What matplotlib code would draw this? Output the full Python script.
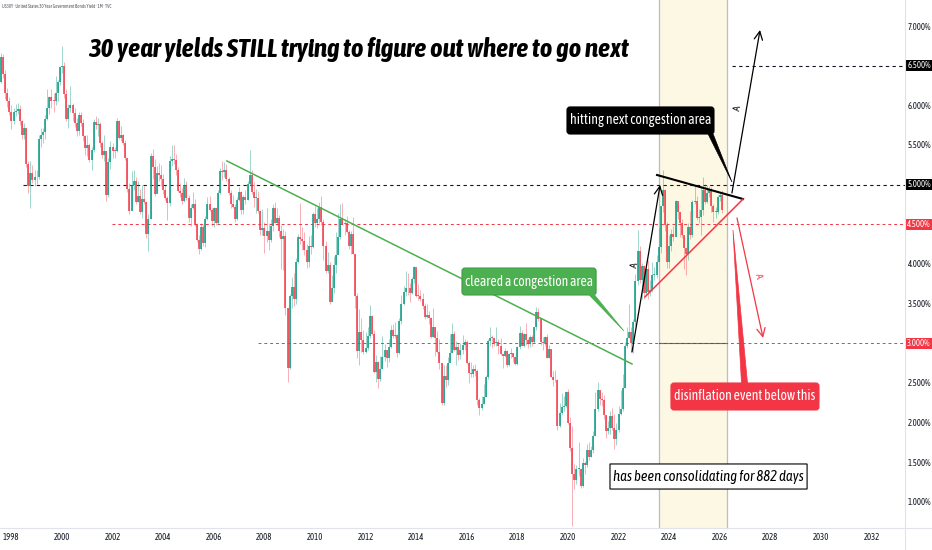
import numpy as np
import matplotlib
matplotlib.use("Agg")
import matplotlib.pyplot as plt
from matplotlib import font_manager as fm
from matplotlib.patches import Polygon, FancyBboxPatch, Rectangle
import matplotlib.transforms as mtransforms

# ---------------- data (US30Y monthly, %) ----------------
start_year, start_month = 1997, 7
first_open = 6.78
close = [
    6.29, 6.61, 6.40, 6.15, 6.05, 5.92,
    5.80, 5.92, 5.93, 5.95, 5.80, 5.62, 5.72, 5.26, 4.98, 5.15, 5.06, 5.09,
    5.09, 5.58, 5.63, 5.66, 5.83, 5.96, 6.10, 6.06, 6.05, 6.16, 6.29, 6.48,
    6.49, 6.14, 5.83, 5.96, 6.01, 5.90, 5.78, 5.67, 5.88, 5.78, 5.61, 5.46,
    5.50, 5.31, 5.44, 5.79, 5.75, 5.76, 5.52, 5.37, 5.42, 4.87, 5.29, 5.47,
    5.43, 5.42, 5.80, 5.59, 5.62, 5.52, 5.34, 4.94, 4.67, 4.99, 5.04, 4.78,
    4.86, 4.66, 4.82, 4.78, 4.38, 4.56, 5.36, 5.22, 4.88, 5.14, 5.12, 5.07,
    4.93, 4.83, 4.77, 5.30, 5.32, 5.31, 5.19, 4.92, 4.89, 4.79, 5.00, 4.83,
    4.58, 4.71, 4.75, 4.50, 4.30, 4.19, 4.47, 4.26, 4.57, 4.76, 4.68, 4.54,
    4.70, 4.51, 4.90, 5.17, 5.16, 5.19, 5.07, 4.90, 4.76, 4.72, 4.56, 4.81,
    4.91, 4.68, 4.84, 4.81, 5.01, 5.12, 4.91, 4.83, 4.83, 4.67, 4.43, 4.45,
    4.35, 4.41, 4.30, 4.48, 4.71, 4.52, 4.58, 4.42, 4.31, 4.35, 3.44, 2.69,
    3.59, 3.71, 3.56, 4.03, 4.34, 4.32, 4.29, 4.17, 4.03, 4.23, 4.21, 4.63,
    4.51, 4.57, 4.72, 4.53, 4.22, 3.91, 3.99, 3.52, 3.69, 3.99, 4.11, 4.34,
    4.57, 4.50, 4.51, 4.40, 4.22, 4.38, 4.12, 3.60, 2.90, 3.14, 3.04, 2.89,
    2.94, 3.09, 3.34, 3.11, 2.64, 2.76, 2.55, 2.67, 2.82, 2.91, 2.81, 2.95,
    3.17, 3.09, 3.10, 2.88, 3.28, 3.50, 3.64, 3.70, 3.69, 3.63, 3.81, 3.96,
    3.60, 3.59, 3.56, 3.47, 3.33, 3.36, 3.32, 3.08, 3.20, 3.06, 2.89, 2.75,
    2.25, 2.59, 2.54, 2.75, 2.88, 3.11, 2.91, 2.95, 2.85, 2.92, 2.98, 3.01,
    2.75, 2.62, 2.61, 2.67, 2.65, 2.28, 2.18, 2.23, 2.32, 2.58, 3.03, 3.07,
    3.06, 3.00, 3.02, 2.96, 2.86, 2.84, 2.90, 2.73, 2.86, 2.88, 2.83, 2.74,
    2.95, 3.13, 2.97, 3.11, 3.04, 2.99, 3.08, 3.02, 3.21, 3.39, 3.30, 3.02,
    3.00, 3.08, 2.81, 2.93, 2.58, 2.53, 2.53, 1.96, 2.12, 2.19, 2.21, 2.39,
    2.00, 1.68, 1.35, 1.28, 1.41, 1.41, 1.20, 1.49, 1.46, 1.65, 1.57, 1.65,
    1.83, 2.17, 2.41, 2.30, 2.29, 2.09, 1.89, 1.93, 2.08, 1.93, 1.79, 1.90,
    2.11, 2.17, 2.44, 2.96, 3.06, 3.14, 3.00, 3.27, 3.78, 4.16, 3.80, 3.97,
    3.63, 3.93, 3.65, 3.67, 3.86, 3.86, 4.02, 4.21, 4.73, 4.93, 4.49, 4.03,
    4.22, 4.38, 4.34, 4.79, 4.65, 4.51, 4.36, 4.20, 4.12, 4.47, 4.36, 4.78,
    4.79, 4.58, 4.59, 4.68, 4.93, 4.78, 4.89, 4.93, 4.73, 4.66, 4.66, 4.84,
    4.87, 4.68,
]
high = [
    6.80, 6.66, 6.65, 6.45, 6.22, 6.10,
    6.00, 5.97, 6.02, 6.03, 6.00, 5.82, 5.78, 5.72, 5.30, 5.30, 5.25, 5.18,
    5.18, 5.62, 5.72, 5.72, 5.88, 6.20, 6.12, 6.20, 6.15, 6.37, 6.32, 6.50,
    6.75, 6.54, 6.20, 6.02, 6.24, 6.03, 5.96, 5.84, 5.91, 5.92, 5.83, 5.62,
    5.63, 5.52, 5.47, 5.83, 5.86, 5.84, 5.79, 5.55, 5.62, 5.42, 5.33, 5.55,
    5.52, 5.47, 5.84, 5.81, 5.74, 5.64, 5.56, 5.34, 5.02, 5.17, 5.19, 5.10,
    5.05, 4.94, 4.99, 4.98, 4.79, 4.63, 5.40, 5.45, 5.32, 5.24, 5.27, 5.25,
    5.13, 5.00, 4.85, 5.36, 5.50, 5.50, 5.38, 5.22, 5.02, 4.96, 5.08, 5.05,
    4.87, 4.75, 4.91, 4.82, 4.52, 4.37, 4.51, 4.50, 4.60, 4.84, 4.86, 4.71,
    4.72, 4.70, 4.93, 5.21, 5.30, 5.28, 5.26, 5.09, 4.93, 4.87, 4.75, 4.84,
    4.97, 4.92, 4.87, 4.93, 5.04, 5.44, 5.19, 5.03, 4.94, 4.92, 4.68, 4.69,
    4.53, 4.70, 4.52, 4.57, 4.75, 4.78, 4.71, 4.62, 4.49, 4.44, 4.42, 3.44,
    3.62, 3.83, 3.88, 4.08, 4.38, 4.77, 4.47, 4.40, 4.25, 4.35, 4.37, 4.66,
    4.73, 4.71, 4.78, 4.86, 4.57, 4.29, 4.15, 4.03, 3.86, 4.10, 4.40, 4.64,
    4.75, 4.77, 4.57, 4.60, 4.43, 4.41, 4.59, 4.13, 3.63, 3.43, 3.32, 3.17,
    3.14, 3.20, 3.48, 3.36, 3.17, 2.85, 2.77, 2.84, 3.09, 2.99, 2.91, 3.05,
    3.23, 3.24, 3.27, 3.11, 3.32, 3.61, 3.72, 3.91, 3.88, 3.76, 3.84, 3.97,
    3.93, 3.75, 3.67, 3.63, 3.51, 3.50, 3.41, 3.33, 3.45, 3.21, 3.15, 3.05,
    2.75, 2.73, 2.73, 2.83, 3.11, 3.25, 3.16, 3.03, 3.00, 3.00, 3.10, 3.05,
    3.04, 2.78, 2.76, 2.72, 2.74, 2.67, 2.31, 2.34, 2.48, 2.60, 3.05, 3.20,
    3.10, 3.07, 3.21, 3.05, 3.07, 2.87, 2.94, 2.92, 2.88, 2.94, 2.88, 2.84,
    2.96, 3.22, 3.17, 3.13, 3.25, 3.06, 3.10, 3.10, 3.21, 3.46, 3.45, 3.32,
    3.08, 3.09, 3.11, 2.98, 2.93, 2.65, 2.66, 2.55, 2.24, 2.37, 2.34, 2.40,
    2.42, 2.07, 1.96, 1.48, 1.46, 1.75, 1.43, 1.55, 1.52, 1.73, 1.76, 1.70,
    1.89, 2.39, 2.51, 2.40, 2.38, 2.35, 2.09, 2.02, 2.15, 2.18, 2.11, 1.99,
    2.21, 2.41, 2.61, 3.01, 3.21, 3.49, 3.21, 3.31, 3.87, 4.43, 4.23, 4.01,
    3.99, 3.96, 4.05, 3.80, 4.02, 3.96, 4.11, 4.45, 4.73, 5.18, 4.94, 4.53,
    4.37, 4.44, 4.48, 4.80, 4.75, 4.65, 4.56, 4.34, 4.16, 4.52, 4.67, 4.80,
    4.98, 4.85, 4.69, 4.98, 5.10, 5.01, 5.00, 4.98, 4.97, 4.76, 4.72, 4.87,
    4.91, 4.93,
]
low = [
    6.26, 6.28, 6.35, 6.08, 5.98, 5.88,
    5.70, 5.77, 5.86, 5.89, 5.75, 5.58, 5.58, 5.22, 4.90, 4.70, 5.02, 4.98,
    5.01, 5.07, 5.48, 5.52, 5.57, 5.82, 5.89, 5.96, 5.91, 6.00, 6.06, 6.25,
    6.41, 6.09, 5.80, 5.72, 5.92, 5.80, 5.73, 5.61, 5.63, 5.74, 5.55, 5.37,
    5.36, 5.29, 5.19, 5.41, 5.70, 5.61, 5.47, 5.34, 5.30, 4.79, 4.84, 5.20,
    5.33, 5.33, 5.41, 5.57, 5.55, 5.50, 5.31, 4.91, 4.63, 4.68, 4.93, 4.76,
    4.78, 4.63, 4.58, 4.75, 4.33, 4.16, 4.56, 5.07, 4.86, 4.91, 5.05, 4.98,
    4.88, 4.80, 4.55, 4.73, 5.23, 5.26, 5.12, 4.91, 4.84, 4.75, 4.78, 4.81,
    4.53, 4.48, 4.69, 4.48, 4.27, 4.13, 4.18, 4.23, 4.21, 4.55, 4.67, 4.48,
    4.46, 4.49, 4.50, 4.88, 5.06, 5.10, 5.05, 4.87, 4.70, 4.71, 4.53, 4.55,
    4.79, 4.63, 4.63, 4.76, 4.81, 4.99, 4.88, 4.72, 4.64, 4.64, 4.36, 4.37,
    4.14, 4.27, 4.17, 4.28, 4.41, 4.51, 4.49, 4.34, 3.93, 3.92, 3.35, 2.51,
    2.67, 3.45, 3.47, 3.49, 4.01, 4.25, 4.18, 4.11, 3.95, 3.96, 4.13, 4.20,
    4.46, 4.45, 4.52, 4.49, 4.05, 3.89, 3.89, 3.50, 3.53, 3.63, 3.88, 4.13,
    4.31, 4.49, 4.37, 4.39, 4.19, 4.13, 4.12, 3.45, 2.81, 2.72, 2.89, 2.86,
    2.88, 2.91, 3.06, 3.10, 2.63, 2.51, 2.44, 2.52, 2.67, 2.77, 2.70, 2.76,
    2.94, 3.06, 3.07, 2.83, 2.86, 3.24, 3.48, 3.60, 3.61, 3.52, 3.62, 3.76,
    3.58, 3.55, 3.53, 3.43, 3.30, 3.32, 3.24, 3.07, 3.08, 2.84, 2.88, 2.68,
    2.22, 2.22, 2.45, 2.47, 2.78, 2.88, 2.90, 2.73, 2.79, 2.80, 2.87, 2.91,
    2.74, 2.50, 2.58, 2.57, 2.59, 2.22, 2.09, 2.16, 2.23, 2.32, 2.55, 2.96,
    2.94, 2.97, 2.97, 2.87, 2.85, 2.69, 2.82, 2.70, 2.71, 2.81, 2.76, 2.72,
    2.73, 2.93, 2.96, 2.95, 2.98, 2.94, 2.95, 2.97, 3.00, 3.17, 3.28, 2.98,
    2.91, 2.97, 2.81, 2.81, 2.57, 2.46, 2.51, 1.90, 1.94, 2.10, 2.15, 2.19,
    1.98, 1.64, 0.70, 1.16, 1.22, 1.32, 1.17, 1.19, 1.35, 1.44, 1.53, 1.56,
    1.62, 1.83, 2.14, 2.22, 2.21, 2.04, 1.80, 1.85, 1.86, 1.90, 1.67, 1.72,
    1.88, 2.10, 2.15, 2.43, 2.94, 3.06, 2.89, 2.88, 3.22, 3.73, 3.76, 3.56,
    3.56, 3.59, 3.56, 3.59, 3.65, 3.80, 3.82, 4.04, 4.14, 4.66, 4.42, 3.95,
    3.95, 4.16, 4.29, 4.35, 4.56, 4.34, 4.33, 3.93, 3.86, 4.05, 4.31, 4.34,
    4.76, 4.55, 4.51, 4.37, 4.62, 4.76, 4.77, 4.84, 4.66, 4.53, 4.58, 4.63,
    4.79, 4.64,
]
year_ticks = list(range(1998, 2033, 2))
price_ticks = [1.0, 1.5, 2.0, 2.5, 3.0, 3.5, 4.0, 4.5, 5.0, 5.5, 6.0, 6.5, 7.0]
badge_levels = [6.5, 5.0]
badge_levels_red = [4.5, 3.0]

title = "30 year yields STILL trying to figure out where to go next"
header = "US30Y \u00b7 United States 30 Year Government Bonds Yield \u00b7 1M \u00b7 TVC"

# ---------------- fonts ----------------
names = {f.name for f in fm.fontManager.ttflist}
if "Asap Condensed" in names:
    FK = dict(family="Asap Condensed")
elif "Liberation Sans Narrow" in names:
    FK = dict(family="Liberation Sans Narrow")
else:
    FK = dict(family="DejaVu Sans", stretch="condensed")

# ---------------- figure ----------------
W, H = 932, 550
fig = plt.figure(figsize=(W / 100, H / 100), dpi=100)
fig.patch.set_facecolor("white")
ax_bottom_px = 528
ax_right_px = 905
ax = fig.add_axes([0, (H - ax_bottom_px) / H, ax_right_px / W, ax_bottom_px / H])
ax.set_facecolor("white")

px_per_year = 25.3
x0_year = 2000 - 62 / px_per_year
px_per_pct = 79.3
ytop = 7 + 26 / px_per_pct
ybot = 7 - (ax_bottom_px - 26) / px_per_pct
ax.set_xlim(x0_year, x0_year + ax_right_px / px_per_year)
ax.set_ylim(ybot, ytop)
for s in ax.spines.values():
    s.set_visible(False)

renderer = fig.canvas.get_renderer()


def fit(txt, target_w, max_size):
    txt.set_fontsize(10)
    w = txt.get_window_extent(renderer).width
    size = min(max_size, 10 * target_w / w)
    txt.set_fontsize(size)
    return size


# consolidation band
band = (2023.60, 2026.285)
ax.axvspan(band[0], band[1], color="#fdf8e4", zorder=0, lw=0)
for xb in band:
    ax.axvline(xb, color="#bdbdbd", lw=0.9, zorder=0.5)
ax.plot(band, [3.0, 3.0], color="#555555", lw=0.8, zorder=1)

# horizontal levels
xr = ax.get_xlim()[1]
ax.plot([2026.48, xr], [6.5, 6.5], color="#131722", lw=0.8, ls=(0, (3, 3)), zorder=1)
ax.plot([1998.46, xr], [5.0, 5.0], color="#131722", lw=0.8, ls=(0, (3, 3)), zorder=1)
ax.plot([2001.98, xr], [4.5, 4.5], color="#f23645", lw=0.7, ls=(0, (3, 3)), zorder=1)
ax.plot([2007.75, xr], [3.0, 3.0], color="#f23645", lw=0.7, ls=(0, (3, 3)), zorder=1)

# candles
n = len(close)
dates = np.array([start_year + (start_month - 1 + i) / 12 for i in range(n)])
c = np.array(close)
o = np.r_[first_open, c[:-1]]
hi = np.array(high)
lo = np.array(low)
up = c >= o
body_col = np.where(up, "#089981", "#f23645")
wick_col = [(0.03, 0.6, 0.5, 0.45) if u else (0.95, 0.21, 0.27, 0.45) for u in up]
ax.vlines(dates, lo, hi, colors=wick_col, lw=0.6, zorder=2)
bt = np.maximum(o, c)
bb = np.minimum(o, c)
bt = np.where(bt - bb < 0.012, bb + 0.012, bt)
ax.vlines(dates, bb, bt, colors=body_col, lw=1.1, zorder=3)

# trend lines
ax.plot([2006.52, 2022.53], [5.298, 2.738], color="#4caf50", lw=1.1, zorder=4)
ax.plot([2023.52, 2026.92], [5.121, 4.818], color="#000000", lw=1.5, zorder=4)
ax.plot([2023.04, 2026.92], [3.583, 4.818], color="#f23645", lw=1.1, zorder=4)

arrow_kw = dict(arrowstyle="->,head_length=0.6,head_width=0.3", lw=0.9, shrinkA=0, shrinkB=0)
ax.annotate("", xy=(2023.64, 4.995), xytext=(2022.53, 2.889),
            arrowprops=dict(color="#000000", **arrow_kw), zorder=5)
ax.annotate("", xy=(2027.59, 6.950), xytext=(2026.48, 4.894),
            arrowprops=dict(color="#000000", **arrow_kw), zorder=5)
ax.annotate("", xy=(2027.71, 3.066), xytext=(2026.68, 4.579),
            arrowprops=dict(color="#f23645", **arrow_kw), zorder=5)

ax.text(2022.65, 3.986, "A", rotation=80, color="#000000", ha="center", va="center",
        fontsize=7.5, zorder=5, **FK)
ax.text(2026.72, 5.966, "A", rotation=80, color="#000000", ha="center", va="center",
        fontsize=7.5, zorder=5, **FK)
ax.text(2027.51, 3.847, "A", rotation=-78, color="#f23645", ha="center", va="center",
        fontsize=7.5, zorder=5, **FK)

aspect = px_per_year / px_per_pct


def callout(x0, x1, y0, y1, text, fc, ec, tc, base, tip, style="normal", round_px=3):
    patch = FancyBboxPatch((x0, y0), x1 - x0, y1 - y0,
                           boxstyle="round,pad=0,rounding_size=%f" % (round_px / px_per_year),
                           mutation_aspect=aspect, fc=fc, ec=ec, lw=0.8, zorder=6)
    ax.add_patch(patch)
    if base is not None:
        ax.add_patch(Polygon([base[0], base[1], tip], closed=True, fc=fc, ec=fc, lw=0.5, zorder=6))
    t = ax.text((x0 + x1) / 2, (y0 + y1) / 2, text, color=tc, ha="center", va="center",
                style=style, zorder=7, **FK)
    fit(t, (x1 - x0) * px_per_year - 6, 11)
    return t


callout(2015.81, 2021.11, 3.608, 3.948, "cleared a congestion area", "#4caf50", "#3f9c43", "white",
        [(2020.80, 3.62), (2021.02, 3.62)], (2022.21, 3.154))
callout(2019.96, 2025.77, 5.638, 5.979, "hitting next congestion area", "#000000", "#000000", "white",
        [(2025.52, 5.65), (2025.72, 5.65)], (2026.48, 5.033))
callout(2024.07, 2029.92, 2.158, 2.498, "disinflation event below this", "#f23645", "#f23645", "white",
        [(2026.86, 2.48), (2027.10, 2.48)], (2026.52, 4.428))
callout(2021.66, 2029.45, 1.161, 1.477, "has been consolidating for 882 days", "white", "#000000",
        "#000000", None, None, style="italic", round_px=0)

# axes ticks
ax.set_xticks(year_ticks)
ax.set_xticklabels([str(y) for y in year_ticks])
ax.yaxis.tick_right()
ax.set_yticks(price_ticks)
ax.set_yticklabels(["" if p in badge_levels + badge_levels_red else "%.3f%%" % p for p in price_ticks])
ax.tick_params(axis="both", length=0, colors="#131722")
ax.tick_params(axis="x", pad=3.5)
ax.tick_params(axis="y", pad=2.0)

probe = fig.text(0, 0, "7.000%", **FK)
ysize = fit(probe, 23, 7)
probe.remove()
probe = fig.text(0, 0, "2000", **FK)
xsize = fit(probe, 16, 7)
probe.remove()
for lab in ax.get_xticklabels():
    lab.set_fontproperties(fm.FontProperties(size=xsize, **FK))
for lab in ax.get_yticklabels():
    lab.set_fontproperties(fm.FontProperties(size=ysize, **FK))

btrans = mtransforms.blended_transform_factory(fig.transFigure, ax.transData)
for lvl, colr in [(l, "#000000") for l in badge_levels] + [(l, "#f23645") for l in badge_levels_red]:
    ax.add_patch(Rectangle((906 / W, lvl - 5.5 / px_per_pct), 26 / W, 11 / px_per_pct,
                           transform=btrans, fc=colr, ec="none", clip_on=False, zorder=8))
    ax.text(919 / W, lvl, "%.3f%%" % lvl, transform=btrans, color="white", ha="center",
            va="center", fontsize=ysize, clip_on=False, zorder=9, **FK)

# separators
fig.add_artist(plt.Line2D([ax_right_px / W] * 2, [0, 1], color="#e0e3eb", lw=0.8))
fig.add_artist(plt.Line2D([0, 1], [(H - ax_bottom_px) / H] * 2, color="#e0e3eb", lw=0.8))

# title & header
tt = fig.text(88 / W, 1 - 57 / H, title, ha="left", va="baseline", style="italic",
              weight="bold", color="#000000", **FK)
fit(tt, 542, 22)
hh = fig.text(2 / W, 1 - 7 / H, header, ha="left", va="center", color="#50535e", **FK)
fit(hh, 108, 4)

fig.savefig("out.png", dpi=100, facecolor="white")
